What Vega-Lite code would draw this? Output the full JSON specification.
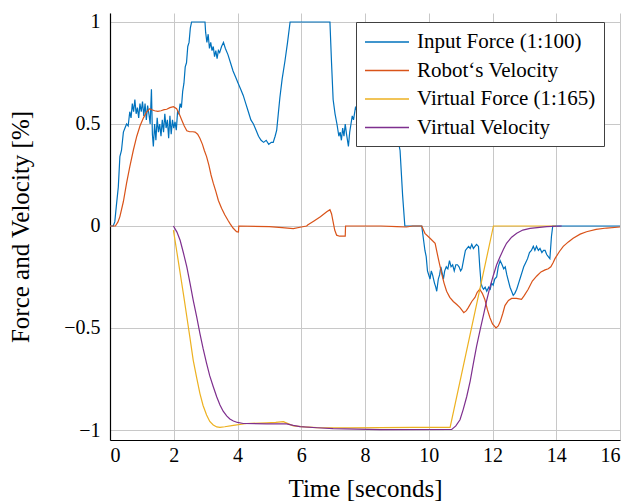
{
  "$schema": "https://vega.github.io/schema/vega-lite/v6.json",
  "autosize": "none",
  "width": 510,
  "height": 427,
  "padding": {"left": 110, "top": 13, "right": 12, "bottom": 61},
  "background": "white",
  "config": {
    "view": {"stroke": null},
    "font": "Liberation Serif",
    "style": {"guide-label": {"font": "Liberation Serif"}, "guide-title": {"font": "Liberation Serif"}},
    "axis": {
      "labelFont": "Liberation Serif",
      "titleFont": "Liberation Serif",
      "labelColor": "black",
      "titleColor": "black",
      "titleFontWeight": "normal",
      "labelFontSize": 20,
      "titleFontSize": 25,
      "gridColor": "#c8c8c8",
      "gridWidth": 1,
      "domainColor": "black",
      "domainWidth": 1.2,
      "ticks": false
    },
    "legend": {
      "labelFont": "Liberation Serif",
      "labelFontSize": 21,
      "labelColor": "black",
      "labelLimit": 400,
      "strokeColor": "#404040",
      "fillColor": "white",
      "padding": 8,
      "symbolType": "M-1,0H3",
      "symbolSize": 484,
      "symbolStrokeWidth": 1.3,
      "labelOffset": 29,
      "rowPadding": 6.5
    }
  },
  "datasets": {
    "d": [
      {"s":"Input Force (1:100)","t":0,"v":0},{"s":"Input Force (1:100)","t":0.1,"v":0},{"s":"Input Force (1:100)","t":0.15,"v":0.02},{"s":"Input Force (1:100)","t":0.2,"v":0.1},{"s":"Input Force (1:100)","t":0.26,"v":0.19},{"s":"Input Force (1:100)","t":0.31,"v":0.34},{"s":"Input Force (1:100)","t":0.36,"v":0.37},{"s":"Input Force (1:100)","t":0.42,"v":0.46},{"s":"Input Force (1:100)","t":0.47,"v":0.48},{"s":"Input Force (1:100)","t":0.52,"v":0.5},{"s":"Input Force (1:100)","t":0.57,"v":0.49},{"s":"Input Force (1:100)","t":0.62,"v":0.56},{"s":"Input Force (1:100)","t":0.66,"v":0.53},{"s":"Input Force (1:100)","t":0.7,"v":0.6},{"s":"Input Force (1:100)","t":0.74,"v":0.56},{"s":"Input Force (1:100)","t":0.78,"v":0.62},{"s":"Input Force (1:100)","t":0.82,"v":0.55},{"s":"Input Force (1:100)","t":0.86,"v":0.58},{"s":"Input Force (1:100)","t":0.9,"v":0.53},{"s":"Input Force (1:100)","t":0.94,"v":0.6},{"s":"Input Force (1:100)","t":0.98,"v":0.56},{"s":"Input Force (1:100)","t":1.02,"v":0.61},{"s":"Input Force (1:100)","t":1.06,"v":0.54},{"s":"Input Force (1:100)","t":1.1,"v":0.6},{"s":"Input Force (1:100)","t":1.14,"v":0.52},{"s":"Input Force (1:100)","t":1.18,"v":0.59},{"s":"Input Force (1:100)","t":1.22,"v":0.55},{"s":"Input Force (1:100)","t":1.26,"v":0.5},{"s":"Input Force (1:100)","t":1.3,"v":0.67},{"s":"Input Force (1:100)","t":1.33,"v":0.45},{"s":"Input Force (1:100)","t":1.36,"v":0.39},{"s":"Input Force (1:100)","t":1.4,"v":0.5},{"s":"Input Force (1:100)","t":1.44,"v":0.42},{"s":"Input Force (1:100)","t":1.48,"v":0.53},{"s":"Input Force (1:100)","t":1.52,"v":0.46},{"s":"Input Force (1:100)","t":1.56,"v":0.5},{"s":"Input Force (1:100)","t":1.6,"v":0.44},{"s":"Input Force (1:100)","t":1.64,"v":0.52},{"s":"Input Force (1:100)","t":1.68,"v":0.46},{"s":"Input Force (1:100)","t":1.72,"v":0.55},{"s":"Input Force (1:100)","t":1.76,"v":0.48},{"s":"Input Force (1:100)","t":1.8,"v":0.52},{"s":"Input Force (1:100)","t":1.84,"v":0.43},{"s":"Input Force (1:100)","t":1.88,"v":0.54},{"s":"Input Force (1:100)","t":1.92,"v":0.45},{"s":"Input Force (1:100)","t":1.96,"v":0.52},{"s":"Input Force (1:100)","t":2.0,"v":0.48},{"s":"Input Force (1:100)","t":2.04,"v":0.51},{"s":"Input Force (1:100)","t":2.08,"v":0.47},{"s":"Input Force (1:100)","t":2.12,"v":0.56},{"s":"Input Force (1:100)","t":2.16,"v":0.55},{"s":"Input Force (1:100)","t":2.2,"v":0.6},{"s":"Input Force (1:100)","t":2.24,"v":0.58},{"s":"Input Force (1:100)","t":2.28,"v":0.66},{"s":"Input Force (1:100)","t":2.32,"v":0.7},{"s":"Input Force (1:100)","t":2.36,"v":0.78},{"s":"Input Force (1:100)","t":2.4,"v":0.8},{"s":"Input Force (1:100)","t":2.44,"v":0.88},{"s":"Input Force (1:100)","t":2.48,"v":0.9},{"s":"Input Force (1:100)","t":2.52,"v":0.97},{"s":"Input Force (1:100)","t":2.56,"v":1.0},{"s":"Input Force (1:100)","t":2.98,"v":1.0},{"s":"Input Force (1:100)","t":3.0,"v":0.95},{"s":"Input Force (1:100)","t":3.04,"v":0.9},{"s":"Input Force (1:100)","t":3.08,"v":0.94},{"s":"Input Force (1:100)","t":3.12,"v":0.87},{"s":"Input Force (1:100)","t":3.16,"v":0.9},{"s":"Input Force (1:100)","t":3.2,"v":0.86},{"s":"Input Force (1:100)","t":3.24,"v":0.88},{"s":"Input Force (1:100)","t":3.28,"v":0.83},{"s":"Input Force (1:100)","t":3.32,"v":0.86},{"s":"Input Force (1:100)","t":3.36,"v":0.82},{"s":"Input Force (1:100)","t":3.4,"v":0.86},{"s":"Input Force (1:100)","t":3.44,"v":0.85},{"s":"Input Force (1:100)","t":3.5,"v":0.88},{"s":"Input Force (1:100)","t":3.56,"v":0.9},{"s":"Input Force (1:100)","t":3.62,"v":0.87},{"s":"Input Force (1:100)","t":3.7,"v":0.84},{"s":"Input Force (1:100)","t":3.78,"v":0.8},{"s":"Input Force (1:100)","t":3.86,"v":0.76},{"s":"Input Force (1:100)","t":3.94,"v":0.73},{"s":"Input Force (1:100)","t":4.02,"v":0.7},{"s":"Input Force (1:100)","t":4.1,"v":0.67},{"s":"Input Force (1:100)","t":4.18,"v":0.64},{"s":"Input Force (1:100)","t":4.26,"v":0.6},{"s":"Input Force (1:100)","t":4.34,"v":0.56},{"s":"Input Force (1:100)","t":4.42,"v":0.52},{"s":"Input Force (1:100)","t":4.5,"v":0.5},{"s":"Input Force (1:100)","t":4.58,"v":0.47},{"s":"Input Force (1:100)","t":4.66,"v":0.44},{"s":"Input Force (1:100)","t":4.74,"v":0.42},{"s":"Input Force (1:100)","t":4.82,"v":0.41},{"s":"Input Force (1:100)","t":4.9,"v":0.42},{"s":"Input Force (1:100)","t":4.98,"v":0.4},{"s":"Input Force (1:100)","t":5.06,"v":0.41},{"s":"Input Force (1:100)","t":5.12,"v":0.41},{"s":"Input Force (1:100)","t":5.18,"v":0.44},{"s":"Input Force (1:100)","t":5.23,"v":0.47},{"s":"Input Force (1:100)","t":5.28,"v":0.55},{"s":"Input Force (1:100)","t":5.33,"v":0.63},{"s":"Input Force (1:100)","t":5.4,"v":0.72},{"s":"Input Force (1:100)","t":5.49,"v":0.81},{"s":"Input Force (1:100)","t":5.57,"v":0.9},{"s":"Input Force (1:100)","t":5.65,"v":1.0},{"s":"Input Force (1:100)","t":6.9,"v":1.0},{"s":"Input Force (1:100)","t":6.95,"v":0.8},{"s":"Input Force (1:100)","t":7.0,"v":0.62},{"s":"Input Force (1:100)","t":7.06,"v":0.55},{"s":"Input Force (1:100)","t":7.12,"v":0.5},{"s":"Input Force (1:100)","t":7.18,"v":0.44},{"s":"Input Force (1:100)","t":7.22,"v":0.46},{"s":"Input Force (1:100)","t":7.26,"v":0.42},{"s":"Input Force (1:100)","t":7.3,"v":0.48},{"s":"Input Force (1:100)","t":7.34,"v":0.44},{"s":"Input Force (1:100)","t":7.38,"v":0.5},{"s":"Input Force (1:100)","t":7.42,"v":0.45},{"s":"Input Force (1:100)","t":7.48,"v":0.39},{"s":"Input Force (1:100)","t":7.52,"v":0.46},{"s":"Input Force (1:100)","t":7.56,"v":0.5},{"s":"Input Force (1:100)","t":7.6,"v":0.54},{"s":"Input Force (1:100)","t":7.64,"v":0.52},{"s":"Input Force (1:100)","t":7.7,"v":0.58},{"s":"Input Force (1:100)","t":7.8,"v":0.55},{"s":"Input Force (1:100)","t":7.9,"v":0.62},{"s":"Input Force (1:100)","t":8.0,"v":0.58},{"s":"Input Force (1:100)","t":8.2,"v":0.66},{"s":"Input Force (1:100)","t":8.4,"v":0.62},{"s":"Input Force (1:100)","t":8.6,"v":0.68},{"s":"Input Force (1:100)","t":8.8,"v":0.6},{"s":"Input Force (1:100)","t":9.0,"v":0.45},{"s":"Input Force (1:100)","t":9.1,"v":0.37},{"s":"Input Force (1:100)","t":9.18,"v":0.15},{"s":"Input Force (1:100)","t":9.25,"v":0},{"s":"Input Force (1:100)","t":9.78,"v":0},{"s":"Input Force (1:100)","t":9.83,"v":-0.06},{"s":"Input Force (1:100)","t":9.88,"v":-0.12},{"s":"Input Force (1:100)","t":9.92,"v":-0.15},{"s":"Input Force (1:100)","t":9.96,"v":-0.22},{"s":"Input Force (1:100)","t":10.0,"v":-0.24},{"s":"Input Force (1:100)","t":10.04,"v":-0.26},{"s":"Input Force (1:100)","t":10.08,"v":-0.22},{"s":"Input Force (1:100)","t":10.12,"v":-0.24},{"s":"Input Force (1:100)","t":10.18,"v":-0.28},{"s":"Input Force (1:100)","t":10.22,"v":-0.3},{"s":"Input Force (1:100)","t":10.25,"v":-0.32},{"s":"Input Force (1:100)","t":10.3,"v":-0.26},{"s":"Input Force (1:100)","t":10.34,"v":-0.24},{"s":"Input Force (1:100)","t":10.38,"v":-0.2},{"s":"Input Force (1:100)","t":10.42,"v":-0.23},{"s":"Input Force (1:100)","t":10.46,"v":-0.26},{"s":"Input Force (1:100)","t":10.5,"v":-0.22},{"s":"Input Force (1:100)","t":10.55,"v":-0.2},{"s":"Input Force (1:100)","t":10.6,"v":-0.21},{"s":"Input Force (1:100)","t":10.65,"v":-0.17},{"s":"Input Force (1:100)","t":10.7,"v":-0.2},{"s":"Input Force (1:100)","t":10.75,"v":-0.19},{"s":"Input Force (1:100)","t":10.8,"v":-0.22},{"s":"Input Force (1:100)","t":10.85,"v":-0.19},{"s":"Input Force (1:100)","t":10.9,"v":-0.19},{"s":"Input Force (1:100)","t":10.95,"v":-0.2},{"s":"Input Force (1:100)","t":11.0,"v":-0.22},{"s":"Input Force (1:100)","t":11.04,"v":-0.21},{"s":"Input Force (1:100)","t":11.1,"v":-0.16},{"s":"Input Force (1:100)","t":11.15,"v":-0.12},{"s":"Input Force (1:100)","t":11.2,"v":-0.11},{"s":"Input Force (1:100)","t":11.25,"v":-0.1},{"s":"Input Force (1:100)","t":11.3,"v":-0.11},{"s":"Input Force (1:100)","t":11.35,"v":-0.09},{"s":"Input Force (1:100)","t":11.4,"v":-0.11},{"s":"Input Force (1:100)","t":11.45,"v":-0.1},{"s":"Input Force (1:100)","t":11.5,"v":-0.09},{"s":"Input Force (1:100)","t":11.56,"v":-0.1},{"s":"Input Force (1:100)","t":11.6,"v":-0.2},{"s":"Input Force (1:100)","t":11.64,"v":-0.28},{"s":"Input Force (1:100)","t":11.68,"v":-0.3},{"s":"Input Force (1:100)","t":11.72,"v":-0.31},{"s":"Input Force (1:100)","t":11.77,"v":-0.3},{"s":"Input Force (1:100)","t":11.82,"v":-0.32},{"s":"Input Force (1:100)","t":11.88,"v":-0.3},{"s":"Input Force (1:100)","t":11.93,"v":-0.31},{"s":"Input Force (1:100)","t":11.97,"v":-0.28},{"s":"Input Force (1:100)","t":12.02,"v":-0.29},{"s":"Input Force (1:100)","t":12.07,"v":-0.26},{"s":"Input Force (1:100)","t":12.13,"v":-0.25},{"s":"Input Force (1:100)","t":12.18,"v":-0.2},{"s":"Input Force (1:100)","t":12.24,"v":-0.17},{"s":"Input Force (1:100)","t":12.3,"v":-0.19},{"s":"Input Force (1:100)","t":12.35,"v":-0.21},{"s":"Input Force (1:100)","t":12.4,"v":-0.2},{"s":"Input Force (1:100)","t":12.45,"v":-0.24},{"s":"Input Force (1:100)","t":12.5,"v":-0.27},{"s":"Input Force (1:100)","t":12.55,"v":-0.3},{"s":"Input Force (1:100)","t":12.6,"v":-0.32},{"s":"Input Force (1:100)","t":12.65,"v":-0.34},{"s":"Input Force (1:100)","t":12.7,"v":-0.33},{"s":"Input Force (1:100)","t":12.76,"v":-0.31},{"s":"Input Force (1:100)","t":12.82,"v":-0.28},{"s":"Input Force (1:100)","t":12.88,"v":-0.25},{"s":"Input Force (1:100)","t":12.94,"v":-0.22},{"s":"Input Force (1:100)","t":12.98,"v":-0.2},{"s":"Input Force (1:100)","t":13.04,"v":-0.18},{"s":"Input Force (1:100)","t":13.1,"v":-0.16},{"s":"Input Force (1:100)","t":13.16,"v":-0.13},{"s":"Input Force (1:100)","t":13.22,"v":-0.12},{"s":"Input Force (1:100)","t":13.28,"v":-0.1},{"s":"Input Force (1:100)","t":13.33,"v":-0.12},{"s":"Input Force (1:100)","t":13.38,"v":-0.1},{"s":"Input Force (1:100)","t":13.44,"v":-0.12},{"s":"Input Force (1:100)","t":13.49,"v":-0.11},{"s":"Input Force (1:100)","t":13.55,"v":-0.13},{"s":"Input Force (1:100)","t":13.6,"v":-0.12},{"s":"Input Force (1:100)","t":13.65,"v":-0.12},{"s":"Input Force (1:100)","t":13.7,"v":-0.14},{"s":"Input Force (1:100)","t":13.75,"v":-0.15},{"s":"Input Force (1:100)","t":13.8,"v":-0.16},{"s":"Input Force (1:100)","t":13.85,"v":-0.05},{"s":"Input Force (1:100)","t":13.89,"v":0},{"s":"Input Force (1:100)","t":16,"v":0},

      {"s":"Robot‘s Velocity","t":0,"v":0},{"s":"Robot‘s Velocity","t":0.17,"v":0},{"s":"Robot‘s Velocity","t":0.25,"v":0.02},{"s":"Robot‘s Velocity","t":0.31,"v":0.046},{"s":"Robot‘s Velocity","t":0.42,"v":0.12},{"s":"Robot‘s Velocity","t":0.52,"v":0.21},{"s":"Robot‘s Velocity","t":0.62,"v":0.29},{"s":"Robot‘s Velocity","t":0.73,"v":0.37},{"s":"Robot‘s Velocity","t":0.84,"v":0.44},{"s":"Robot‘s Velocity","t":0.94,"v":0.49},{"s":"Robot‘s Velocity","t":1.05,"v":0.53},{"s":"Robot‘s Velocity","t":1.15,"v":0.56},{"s":"Robot‘s Velocity","t":1.25,"v":0.575},{"s":"Robot‘s Velocity","t":1.31,"v":0.57},{"s":"Robot‘s Velocity","t":1.4,"v":0.565},{"s":"Robot‘s Velocity","t":1.5,"v":0.562},{"s":"Robot‘s Velocity","t":1.6,"v":0.565},{"s":"Robot‘s Velocity","t":1.7,"v":0.57},{"s":"Robot‘s Velocity","t":1.78,"v":0.572},{"s":"Robot‘s Velocity","t":1.88,"v":0.58},{"s":"Robot‘s Velocity","t":1.99,"v":0.585},{"s":"Robot‘s Velocity","t":2.09,"v":0.575},{"s":"Robot‘s Velocity","t":2.17,"v":0.55},{"s":"Robot‘s Velocity","t":2.25,"v":0.52},{"s":"Robot‘s Velocity","t":2.33,"v":0.49},{"s":"Robot‘s Velocity","t":2.41,"v":0.467},{"s":"Robot‘s Velocity","t":2.5,"v":0.462},{"s":"Robot‘s Velocity","t":2.6,"v":0.462},{"s":"Robot‘s Velocity","t":2.67,"v":0.46},{"s":"Robot‘s Velocity","t":2.75,"v":0.45},{"s":"Robot‘s Velocity","t":2.82,"v":0.43},{"s":"Robot‘s Velocity","t":2.9,"v":0.4},{"s":"Robot‘s Velocity","t":2.96,"v":0.37},{"s":"Robot‘s Velocity","t":3.03,"v":0.34},{"s":"Robot‘s Velocity","t":3.1,"v":0.3},{"s":"Robot‘s Velocity","t":3.17,"v":0.25},{"s":"Robot‘s Velocity","t":3.24,"v":0.21},{"s":"Robot‘s Velocity","t":3.32,"v":0.17},{"s":"Robot‘s Velocity","t":3.4,"v":0.125},{"s":"Robot‘s Velocity","t":3.5,"v":0.087},{"s":"Robot‘s Velocity","t":3.6,"v":0.055},{"s":"Robot‘s Velocity","t":3.7,"v":0.028},{"s":"Robot‘s Velocity","t":3.76,"v":0.013},{"s":"Robot‘s Velocity","t":3.86,"v":-0.01},{"s":"Robot‘s Velocity","t":3.97,"v":-0.028},{"s":"Robot‘s Velocity","t":4.03,"v":-0.03},{"s":"Robot‘s Velocity","t":4.04,"v":0},{"s":"Robot‘s Velocity","t":5.0,"v":-0.003},{"s":"Robot‘s Velocity","t":5.4,"v":-0.008},{"s":"Robot‘s Velocity","t":5.75,"v":-0.013},{"s":"Robot‘s Velocity","t":6.0,"v":-0.005},{"s":"Robot‘s Velocity","t":6.17,"v":0},{"s":"Robot‘s Velocity","t":6.2,"v":0.005},{"s":"Robot‘s Velocity","t":6.4,"v":0.025},{"s":"Robot‘s Velocity","t":6.6,"v":0.045},{"s":"Robot‘s Velocity","t":6.8,"v":0.07},{"s":"Robot‘s Velocity","t":6.9,"v":0.08},{"s":"Robot‘s Velocity","t":6.95,"v":0.06},{"s":"Robot‘s Velocity","t":7.0,"v":0.02},{"s":"Robot‘s Velocity","t":7.05,"v":-0.02},{"s":"Robot‘s Velocity","t":7.11,"v":-0.045},{"s":"Robot‘s Velocity","t":7.2,"v":-0.05},{"s":"Robot‘s Velocity","t":7.38,"v":-0.05},{"s":"Robot‘s Velocity","t":7.39,"v":0},{"s":"Robot‘s Velocity","t":8.5,"v":0},{"s":"Robot‘s Velocity","t":9.0,"v":-0.003},{"s":"Robot‘s Velocity","t":9.3,"v":-0.005},{"s":"Robot‘s Velocity","t":9.5,"v":0},{"s":"Robot‘s Velocity","t":9.78,"v":0},{"s":"Robot‘s Velocity","t":9.88,"v":-0.036},{"s":"Robot‘s Velocity","t":10.04,"v":-0.06},{"s":"Robot‘s Velocity","t":10.2,"v":-0.085},{"s":"Robot‘s Velocity","t":10.3,"v":-0.16},{"s":"Robot‘s Velocity","t":10.4,"v":-0.23},{"s":"Robot‘s Velocity","t":10.48,"v":-0.28},{"s":"Robot‘s Velocity","t":10.56,"v":-0.32},{"s":"Robot‘s Velocity","t":10.66,"v":-0.35},{"s":"Robot‘s Velocity","t":10.77,"v":-0.37},{"s":"Robot‘s Velocity","t":10.88,"v":-0.385},{"s":"Robot‘s Velocity","t":10.98,"v":-0.4},{"s":"Robot‘s Velocity","t":11.1,"v":-0.425},{"s":"Robot‘s Velocity","t":11.18,"v":-0.415},{"s":"Robot‘s Velocity","t":11.24,"v":-0.4},{"s":"Robot‘s Velocity","t":11.35,"v":-0.37},{"s":"Robot‘s Velocity","t":11.45,"v":-0.35},{"s":"Robot‘s Velocity","t":11.52,"v":-0.325},{"s":"Robot‘s Velocity","t":11.6,"v":-0.31},{"s":"Robot‘s Velocity","t":11.68,"v":-0.33},{"s":"Robot‘s Velocity","t":11.76,"v":-0.36},{"s":"Robot‘s Velocity","t":11.84,"v":-0.41},{"s":"Robot‘s Velocity","t":11.92,"v":-0.45},{"s":"Robot‘s Velocity","t":12.0,"v":-0.48},{"s":"Robot‘s Velocity","t":12.11,"v":-0.5},{"s":"Robot‘s Velocity","t":12.18,"v":-0.49},{"s":"Robot‘s Velocity","t":12.24,"v":-0.47},{"s":"Robot‘s Velocity","t":12.32,"v":-0.43},{"s":"Robot‘s Velocity","t":12.39,"v":-0.39},{"s":"Robot‘s Velocity","t":12.5,"v":-0.365},{"s":"Robot‘s Velocity","t":12.6,"v":-0.355},{"s":"Robot‘s Velocity","t":12.75,"v":-0.355},{"s":"Robot‘s Velocity","t":12.91,"v":-0.36},{"s":"Robot‘s Velocity","t":13.0,"v":-0.34},{"s":"Robot‘s Velocity","t":13.12,"v":-0.31},{"s":"Robot‘s Velocity","t":13.25,"v":-0.27},{"s":"Robot‘s Velocity","t":13.39,"v":-0.245},{"s":"Robot‘s Velocity","t":13.52,"v":-0.225},{"s":"Robot‘s Velocity","t":13.65,"v":-0.215},{"s":"Robot‘s Velocity","t":13.75,"v":-0.21},{"s":"Robot‘s Velocity","t":13.83,"v":-0.2},{"s":"Robot‘s Velocity","t":13.9,"v":-0.18},{"s":"Robot‘s Velocity","t":13.96,"v":-0.16},{"s":"Robot‘s Velocity","t":14.1,"v":-0.125},{"s":"Robot‘s Velocity","t":14.22,"v":-0.1},{"s":"Robot‘s Velocity","t":14.38,"v":-0.078},{"s":"Robot‘s Velocity","t":14.53,"v":-0.06},{"s":"Robot‘s Velocity","t":14.75,"v":-0.04},{"s":"Robot‘s Velocity","t":14.95,"v":-0.028},{"s":"Robot‘s Velocity","t":15.25,"v":-0.017},{"s":"Robot‘s Velocity","t":15.58,"v":-0.01},{"s":"Robot‘s Velocity","t":16,"v":-0.005},

      {"s":"Virtual Force (1:165)","t":1.99,"v":-0.02},{"s":"Virtual Force (1:165)","t":2.1,"v":-0.13},{"s":"Virtual Force (1:165)","t":2.2,"v":-0.23},{"s":"Virtual Force (1:165)","t":2.31,"v":-0.34},{"s":"Virtual Force (1:165)","t":2.41,"v":-0.445},{"s":"Virtual Force (1:165)","t":2.51,"v":-0.55},{"s":"Virtual Force (1:165)","t":2.61,"v":-0.657},{"s":"Virtual Force (1:165)","t":2.72,"v":-0.745},{"s":"Virtual Force (1:165)","t":2.82,"v":-0.82},{"s":"Virtual Force (1:165)","t":2.92,"v":-0.88},{"s":"Virtual Force (1:165)","t":3.03,"v":-0.926},{"s":"Virtual Force (1:165)","t":3.13,"v":-0.958},{"s":"Virtual Force (1:165)","t":3.24,"v":-0.975},{"s":"Virtual Force (1:165)","t":3.35,"v":-0.985},{"s":"Virtual Force (1:165)","t":3.45,"v":-0.987},{"s":"Virtual Force (1:165)","t":3.6,"v":-0.984},{"s":"Virtual Force (1:165)","t":3.87,"v":-0.977},{"s":"Virtual Force (1:165)","t":4.29,"v":-0.968},{"s":"Virtual Force (1:165)","t":4.92,"v":-0.965},{"s":"Virtual Force (1:165)","t":5.2,"v":-0.963},{"s":"Virtual Force (1:165)","t":5.44,"v":-0.959},{"s":"Virtual Force (1:165)","t":5.6,"v":-0.97},{"s":"Virtual Force (1:165)","t":5.75,"v":-0.98},{"s":"Virtual Force (1:165)","t":6.1,"v":-0.985},{"s":"Virtual Force (1:165)","t":6.48,"v":-0.988},{"s":"Virtual Force (1:165)","t":7.53,"v":-0.99},{"s":"Virtual Force (1:165)","t":8.47,"v":-0.988},{"s":"Virtual Force (1:165)","t":9.5,"v":-0.987},{"s":"Virtual Force (1:165)","t":10.67,"v":-0.987},{"s":"Virtual Force (1:165)","t":12.03,"v":0},{"s":"Virtual Force (1:165)","t":14.0,"v":0},

      {"s":"Virtual Velocity","t":1.99,"v":0},{"s":"Virtual Velocity","t":2.1,"v":-0.03},{"s":"Virtual Velocity","t":2.2,"v":-0.07},{"s":"Virtual Velocity","t":2.3,"v":-0.13},{"s":"Virtual Velocity","t":2.41,"v":-0.2},{"s":"Virtual Velocity","t":2.51,"v":-0.28},{"s":"Virtual Velocity","t":2.61,"v":-0.363},{"s":"Virtual Velocity","t":2.72,"v":-0.445},{"s":"Virtual Velocity","t":2.82,"v":-0.526},{"s":"Virtual Velocity","t":2.92,"v":-0.6},{"s":"Virtual Velocity","t":3.03,"v":-0.673},{"s":"Virtual Velocity","t":3.13,"v":-0.735},{"s":"Virtual Velocity","t":3.24,"v":-0.788},{"s":"Virtual Velocity","t":3.35,"v":-0.838},{"s":"Virtual Velocity","t":3.45,"v":-0.877},{"s":"Virtual Velocity","t":3.55,"v":-0.908},{"s":"Virtual Velocity","t":3.66,"v":-0.931},{"s":"Virtual Velocity","t":3.76,"v":-0.946},{"s":"Virtual Velocity","t":3.87,"v":-0.956},{"s":"Virtual Velocity","t":4.0,"v":-0.963},{"s":"Virtual Velocity","t":4.18,"v":-0.968},{"s":"Virtual Velocity","t":4.92,"v":-0.97},{"s":"Virtual Velocity","t":5.54,"v":-0.97},{"s":"Virtual Velocity","t":5.75,"v":-0.977},{"s":"Virtual Velocity","t":5.96,"v":-0.983},{"s":"Virtual Velocity","t":6.5,"v":-0.989},{"s":"Virtual Velocity","t":7.0,"v":-0.993},{"s":"Virtual Velocity","t":8.47,"v":-0.998},{"s":"Virtual Velocity","t":10.72,"v":-0.997},{"s":"Virtual Velocity","t":10.85,"v":-0.98},{"s":"Virtual Velocity","t":10.98,"v":-0.95},{"s":"Virtual Velocity","t":11.08,"v":-0.9},{"s":"Virtual Velocity","t":11.19,"v":-0.837},{"s":"Virtual Velocity","t":11.3,"v":-0.76},{"s":"Virtual Velocity","t":11.4,"v":-0.673},{"s":"Virtual Velocity","t":11.5,"v":-0.59},{"s":"Virtual Velocity","t":11.61,"v":-0.51},{"s":"Virtual Velocity","t":11.72,"v":-0.435},{"s":"Virtual Velocity","t":11.82,"v":-0.363},{"s":"Virtual Velocity","t":11.92,"v":-0.3},{"s":"Virtual Velocity","t":12.03,"v":-0.24},{"s":"Virtual Velocity","t":12.13,"v":-0.19},{"s":"Virtual Velocity","t":12.24,"v":-0.15},{"s":"Virtual Velocity","t":12.34,"v":-0.115},{"s":"Virtual Velocity","t":12.44,"v":-0.085},{"s":"Virtual Velocity","t":12.6,"v":-0.055},{"s":"Virtual Velocity","t":12.76,"v":-0.036},{"s":"Virtual Velocity","t":12.95,"v":-0.02},{"s":"Virtual Velocity","t":13.18,"v":-0.012},{"s":"Virtual Velocity","t":13.7,"v":-0.003},{"s":"Virtual Velocity","t":14.17,"v":0}
    ]
  },
  "data": {"name": "d"},
  "mark": {"type": "line", "strokeWidth": 1.2, "clip": true},
  "encoding": {
    "x": {
      "field": "t", "type": "quantitative",
      "scale": {"domain": [0, 16], "nice": false, "zero": false},
      "axis": {"values": [0, 2, 4, 6, 8, 10, 12, 14, 16], "title": "Time [seconds]", "format": "~g", "labelFont": "Liberation Serif", "titleFont": "Liberation Serif", "labelPadding": 5, "titlePadding": 11}
    },
    "y": {
      "field": "v", "type": "quantitative",
      "scale": {"domain": [-1.049, 1.044], "nice": false, "zero": false},
      "axis": {"values": [-1, -0.5, 0, 0.5, 1], "title": "Force and Velocity [%]", "format": "~g", "labelFont": "Liberation Serif", "titleFont": "Liberation Serif", "labelPadding": 10, "titlePadding": 30}
    },
    "color": {
      "field": "s", "type": "nominal",
      "scale": {
        "domain": ["Input Force (1:100)", "Robot‘s Velocity", "Virtual Force (1:165)", "Virtual Velocity"],
        "range": ["#0072BD", "#D95319", "#EDB120", "#7E2F8E"]
      },
      "legend": {"title": null, "orient": "none", "legendX": 246, "legendY": 9, "labelFont": "Liberation Serif", "labelLimit": 400}
    }
  }
}
